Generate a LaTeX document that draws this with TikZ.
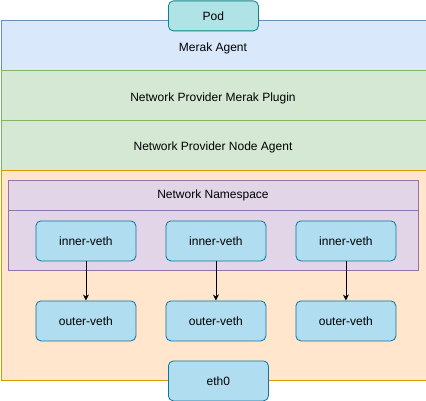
\documentclass[tikz,border=0pt]{standalone}
\usepackage{fontspec}
\usetikzlibrary{arrows.meta}
\setmainfont{Liberation Sans}
\definecolor{podfill}{HTML}{B0E3E6}
\definecolor{podline}{HTML}{0E8088}
\definecolor{bluefill}{HTML}{DAE8FC}
\definecolor{blueline}{HTML}{6C8EBF}
\definecolor{greenfill}{HTML}{D5E8D4}
\definecolor{greenline}{HTML}{82B366}
\definecolor{orangefill}{HTML}{FFE6CC}
\definecolor{orangeline}{HTML}{D79B00}
\definecolor{purplefill}{HTML}{E1D5E7}
\definecolor{purpleline}{HTML}{9673A6}
\definecolor{vethfill}{HTML}{B1DDF0}
\definecolor{vethline}{HTML}{10739E}
\begin{document}
\begin{tikzpicture}[x=1pt,y=-1pt,
  every node/.style={font=\fontsize{12}{14}\selectfont, text=black},
  layer/.style={draw, line width=0.8pt, minimum width=425pt, minimum height=50pt, inner sep=0pt, anchor=north west},
  vbox/.style={draw=vethline, fill=vethfill, line width=0.8pt, rounded corners=5pt, minimum width=100pt, minimum height=40pt, inner sep=0pt, anchor=north west},
  arr/.style={-{Stealth[length=6pt,width=6pt]}, line width=0.8pt, draw=black}]
\useasboundingbox (0,0) rectangle (426,401);
\node[layer, draw=blueline, fill=bluefill] (merak) at (0.5,20) {};
\node (merakt) at (213,48) {Merak Agent};
\node[layer, draw=greenline, fill=greenfill] (plugin) at (0.5,70) {};
\node (plugint) at (213,98) {Network Provider Merak Plugin};
\node[layer, draw=greenline, fill=greenfill] (nodeagent) at (0.5,120) {};
\node (nodeagentt) at (213,147.5) {Network Provider Node Agent};
\node[layer, draw=orangeline, fill=orangefill, minimum height=210pt] (host) at (0.5,170) {};
\node[draw=purpleline, fill=purplefill, line width=0.8pt, minimum width=410pt, minimum height=90pt, inner sep=0pt, anchor=north west] (ns) at (8,180) {};
\draw[purpleline, line width=0.8pt] (8,210.5) -- (418,210.5);
\node (nslabel) at (213,195) {Network Namespace};
\node[draw=podline, fill=podfill, line width=0.8pt, rounded corners=5pt, minimum width=90pt, minimum height=30pt, inner sep=0pt, anchor=north west] (pod) at (168,0.5) {Pod};
\node[vbox] (in1) at (35.5,220.5) {inner-veth};
\node[vbox] (in2) at (165.5,220.5) {inner-veth};
\node[vbox] (in3) at (295.5,220.5) {inner-veth};
\node[vbox] (out1) at (35.5,300.5) {outer-veth};
\node[vbox] (out2) at (165.5,300.5) {outer-veth};
\node[vbox] (out3) at (295.5,300.5) {outer-veth};
\node[vbox] (eth) at (168,360.5) {eth0};
\draw[arr] (in1.south) -- (out1.north);
\draw[arr] (in2.south) -- (out2.north);
\draw[arr] (in3.south) -- (out3.north);
\end{tikzpicture}
\end{document}
